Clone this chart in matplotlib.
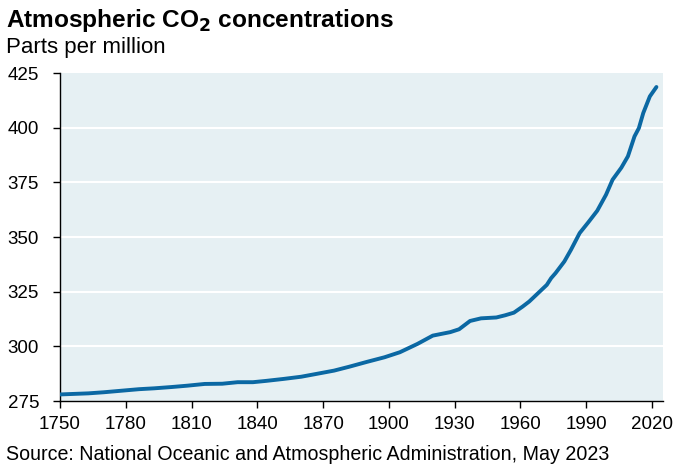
import matplotlib
matplotlib.use("Agg")
import matplotlib.pyplot as plt

years = [1750, 1763, 1770, 1778, 1786, 1793, 1801, 1808, 1816, 1824,
         1831, 1838, 1844, 1852, 1860, 1867, 1875, 1882, 1890, 1898,
         1905, 1913, 1920, 1928, 1932, 1937, 1942, 1949, 1953, 1957,
         1961, 1964, 1968, 1972, 1974, 1976, 1980, 1983, 1987, 1991,
         1995, 1999, 2002, 2006, 2009, 2012, 2014, 2016, 2019, 2022]
co2 = [278.0, 278.5, 279.0, 279.7, 280.4, 280.8, 281.4, 282.0, 282.8, 282.9,
       283.6, 283.6, 284.2, 285.1, 286.1, 287.4, 288.9, 290.7, 292.9, 295.0,
       297.3, 301.1, 304.9, 306.5, 307.8, 311.6, 312.8, 313.2, 314.2, 315.4,
       318.2, 320.5, 324.3, 328.1, 331.2, 333.5, 338.8, 344.1, 351.8, 356.8,
       362.0, 369.3, 376.2, 381.7, 386.9, 396.0, 399.8, 406.7, 414.3, 418.6]

xticks = list(range(1750, 2021, 30))
yticks = [275, 300, 325, 350, 375, 400, 425]

plt.rcParams['font.family'] = ['Liberation Sans', 'DejaVu Sans']

fig = plt.figure(figsize=(6.75, 4.65), dpi=100)
ax = fig.add_axes([60/675, 64/465, 603/675, 328/465])
ax.set_facecolor('#e6f0f3')

ax.plot(years, co2, color='#0b68a3', lw=2.8, solid_capstyle='round', zorder=3)

ax.set_xlim(1750, 2025)
ax.set_ylim(275, 425)
ax.set_xticks(xticks)
ax.set_yticks(yticks)
ax.tick_params(axis='both', labelsize=13.5, direction='out', length=5, width=1, color='black')
ax.tick_params(axis='y', pad=10)
ax.tick_params(axis='x', pad=6)

for y in yticks[1:-1]:
    ax.axhline(y, color='white', lw=1.5, zorder=1)

for s in ['top', 'right']:
    ax.spines[s].set_visible(False)
for s in ['left', 'bottom']:
    ax.spines[s].set_color('black')
    ax.spines[s].set_linewidth(1)

fig.text(6/675, 1 - 27/465, 'Atmospheric CO$_\\mathbf{2}$ concentrations', fontsize=17.6,
         fontweight='bold', ha='left', va='baseline')
fig.text(6/675, 1 - 53/465, 'Parts per million', fontsize=16, ha='left', va='baseline')
fig.text(6/675, 1 - 460/465, 'Source: National Oceanic and Atmospheric Administration, May 2023',
         fontsize=14.15, ha='left', va='baseline')

fig.savefig('out.png', dpi=100)
